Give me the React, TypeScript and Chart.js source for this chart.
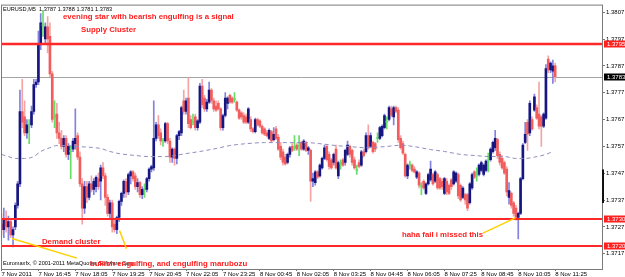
import React, { useEffect, useRef } from "react";
import { Chart, registerables } from "chart.js";

Chart.register(...registerables);

// ---------- data (EURUSD, M5, one candle per 5 minutes from 7 Nov 2011 15:25) ----------
const symbol = "EURUSD,M5";

const opens = [
  1.3728, 1.3726, 1.3730, 1.3727, 1.3729, 1.3724, 1.3727, 1.3735, 1.3743, 1.3770,
  1.3768, 1.3762, 1.3765, 1.3765, 1.3770, 1.3780, 1.3781, 1.3795, 1.3802, 1.3797,
  1.38015, 1.3798, 1.3784, 1.3768, 1.3769, 1.3762, 1.3760, 1.3757, 1.3760, 1.3754,
  1.3755, 1.3756, 1.3758, 1.3761, 1.3753, 1.3743, 1.3734, 1.3742, 1.3738, 1.3743,
  1.3741, 1.3742, 1.3745, 1.3744, 1.3749, 1.3746, 1.3738, 1.3732, 1.3736, 1.3728,
  1.3726, 1.37305, 1.37365, 1.37395, 1.3744, 1.3740, 1.3746, 1.37475, 1.3746, 1.3742,
  1.37435, 1.3739, 1.3741, 1.3741, 1.3745, 1.37485, 1.3749, 1.3760, 1.3765, 1.3762,
  1.3759, 1.3759, 1.37655, 1.3759, 1.3753, 1.3756, 1.37525, 1.3761, 1.3762, 1.3774,
  1.3770, 1.3775, 1.3767, 1.3766, 1.3768, 1.3764, 1.3766, 1.37795, 1.3775, 1.3771,
  1.37735, 1.3778, 1.3774, 1.3772, 1.3773, 1.3771, 1.3764, 1.37685, 1.3773, 1.3776,
  1.3775, 1.37745, 1.37735, 1.37705, 1.37695, 1.37685, 1.3768, 1.3766, 1.3767, 1.37635,
  1.37625, 1.3767, 1.37665, 1.37645, 1.37635, 1.3762, 1.3760, 1.37625, 1.37595, 1.37635,
  1.37605, 1.3757, 1.3755, 1.3753, 1.3751, 1.3754, 1.3757, 1.37565, 1.37575, 1.3757,
  1.37585, 1.3756, 1.37585, 1.37555, 1.37555, 1.3744, 1.37435, 1.37475, 1.3746, 1.3749,
  1.37525, 1.3757, 1.3754, 1.3752, 1.3751, 1.3756, 1.3746, 1.37505, 1.3752, 1.3751,
  1.3754, 1.3757, 1.37555, 1.3752, 1.3748, 1.3751, 1.3750, 1.3755, 1.3755, 1.3761,
  1.3757, 1.37585, 1.3758, 1.3760, 1.3760, 1.3761, 1.3764, 1.3766, 1.3767, 1.3771,
  1.3768, 1.37715, 1.37705, 1.3760, 1.3758, 1.3754, 1.3746, 1.3750, 1.3750, 1.37485,
  1.37455, 1.3747, 1.3742, 1.3744, 1.37395, 1.3743, 1.37445, 1.37465, 1.3744, 1.37465,
  1.3745, 1.3744, 1.37395, 1.3744, 1.37425, 1.37445, 1.3743, 1.3744, 1.37465, 1.37425,
  1.3738, 1.3739, 1.3739, 1.3736, 1.37415, 1.37475, 1.3746, 1.37465, 1.3748, 1.37465,
  1.3748, 1.37515, 1.3752, 1.3755, 1.37565, 1.37595, 1.3754, 1.37525, 1.3751, 1.37485,
  1.3738, 1.37395, 1.3736, 1.3734, 1.37305, 1.3732, 1.3745, 1.37585, 1.3766, 1.3762,
  1.3767, 1.37705, 1.37715, 1.3769, 1.3768, 1.37645, 1.37675, 1.37895, 1.37855, 1.3785, 1.3787,
];

const highs = [
  1.3732, 1.3734, 1.3733, 1.3731, 1.3730, 1.3727, 1.3736, 1.3744, 1.3778, 1.3782,
  1.3774, 1.3767, 1.3767, 1.3772, 1.3782, 1.3782, 1.3800, 1.38065, 1.38076, 1.3803,
  1.38054, 1.3803, 1.3785, 1.3774, 1.3773, 1.3766, 1.3763, 1.3761, 1.3761, 1.3758,
  1.3757, 1.3760, 1.3771, 1.3762, 1.3755, 1.3745, 1.3744, 1.3744, 1.3744, 1.3746,
  1.3745, 1.3746, 1.3747, 1.3750, 1.3751, 1.3747, 1.3739, 1.3737, 1.3737, 1.3730,
  1.3731, 1.3737, 1.3740, 1.37445, 1.3745, 1.3747, 1.3748, 1.3748, 1.3747, 1.3745,
  1.3744, 1.3742, 1.3743, 1.37455, 1.3749, 1.3750, 1.3774, 1.3766, 1.37685, 1.37635,
  1.3760, 1.3766, 1.3766, 1.3760, 1.37565, 1.37565, 1.37615, 1.3763, 1.3772, 1.3778,
  1.3775, 1.37825, 1.37685, 1.3769, 1.3769, 1.3767, 1.37805, 1.3782, 1.3776, 1.37745,
  1.3781, 1.37785, 1.3775, 1.3774, 1.3774, 1.37715, 1.3769, 1.3777, 1.37755, 1.37765,
  1.37755, 1.3777, 1.3774, 1.3771, 1.3770, 1.37695, 1.3769, 1.37715, 1.3768, 1.3764,
  1.37675, 1.37675, 1.3767, 1.3765, 1.3764, 1.3763, 1.37635, 1.3763, 1.3764, 1.37645,
  1.37615, 1.37585, 1.3756, 1.3754, 1.37545, 1.3757, 1.3758, 1.3761, 1.3758, 1.3761,
  1.3759, 1.37595, 1.3759, 1.3757, 1.3756, 1.3747, 1.3748, 1.3748, 1.37505, 1.3753,
  1.37575, 1.37575, 1.3755, 1.37525, 1.37545, 1.37575, 1.37515, 1.3752, 1.37525, 1.3756,
  1.3759, 1.37575, 1.3756, 1.3753, 1.3750, 1.3752, 1.37555, 1.3756, 1.3762, 1.3765,
  1.3762, 1.3759, 1.37585, 1.3762, 1.37645, 1.3765, 1.3769, 1.3768, 1.3772, 1.3772,
  1.3772, 1.3772, 1.37715, 1.3761, 1.3759, 1.37545, 1.37505, 1.37515, 1.37505, 1.37495,
  1.3748, 1.37475, 1.37435, 1.37445, 1.37435, 1.3747, 1.37515, 1.3747, 1.3748, 1.3747,
  1.37455, 1.3745, 1.37455, 1.3745, 1.3743, 1.3745, 1.3748, 1.37475, 1.3747, 1.3743,
  1.3742, 1.37395, 1.37395, 1.37435, 1.3747, 1.3748, 1.3749, 1.37505, 1.37515, 1.37505,
  1.3752, 1.37545, 1.37565, 1.3759, 1.3763, 1.3760, 1.3755, 1.37535, 1.37515, 1.37495,
  1.37435, 1.3740, 1.37365, 1.3735, 1.37325, 1.37455, 1.3758, 1.3766, 1.3767, 1.3774,
  1.3768, 1.37765, 1.37725, 1.3781, 1.37685, 1.37695, 1.37875, 1.37907, 1.37885, 1.37892, 1.3788,
];

const lows = [
  1.3724, 1.3723, 1.3725, 1.3722, 1.3723, 1.37195, 1.3726, 1.3734, 1.3742, 1.3764,
  1.3761, 1.3760, 1.3758, 1.3764, 1.3769, 1.3779, 1.3780, 1.3793, 1.3798, 1.3795,
  1.37918, 1.3783, 1.3766, 1.3764, 1.3760, 1.3758, 1.3756, 1.3755, 1.3753, 1.3752,
  1.3745, 1.3755, 1.3756, 1.3752, 1.3742, 1.3728, 1.3732, 1.3736, 1.3737, 1.3740,
  1.3739, 1.3740, 1.3741, 1.3737, 1.3745, 1.3735, 1.3731, 1.3730, 1.3725, 1.3725,
  1.37245, 1.3729, 1.3735, 1.3738, 1.3738, 1.3739, 1.3743, 1.3744, 1.3741, 1.3740,
  1.3738, 1.37375, 1.3738, 1.3740, 1.3744, 1.37475, 1.3748, 1.3759, 1.3760, 1.37575,
  1.3757, 1.37585, 1.3758, 1.3751, 1.3751, 1.3750, 1.37505, 1.37595, 1.3761, 1.3769,
  1.3769, 1.3764, 1.37635, 1.3765, 1.3763, 1.3763, 1.37655, 1.37715, 1.3770, 1.3770,
  1.3773, 1.3773, 1.3770, 1.3770, 1.37705, 1.3763, 1.3763, 1.3768, 1.3771, 1.3773,
  1.3773, 1.37735, 1.3770, 1.3767, 1.3767, 1.37655, 1.37655, 1.37655, 1.37625, 1.3762,
  1.3762, 1.37645, 1.3764, 1.37615, 1.3761, 1.37605, 1.37595, 1.37585, 1.3759, 1.37595,
  1.37555, 1.3752, 1.3750, 1.3750, 1.37505, 1.3753, 1.3755, 1.37555, 1.37555, 1.37535,
  1.37555, 1.37555, 1.3755, 1.3754, 1.37365, 1.3742, 1.37425, 1.3745, 1.37455, 1.37485,
  1.3752, 1.37515, 1.37485, 1.37485, 1.3750, 1.37485, 1.3745, 1.37485, 1.37495, 1.3750,
  1.37535, 1.3753, 1.3750, 1.37485, 1.37465, 1.3749, 1.37495, 1.3753, 1.37545, 1.3756,
  1.37565, 1.37545, 1.3755, 1.37585, 1.37595, 1.37605, 1.37635, 1.37635, 1.37665, 1.3768,
  1.3765, 1.37695, 1.37585, 1.3756, 1.3754, 1.37455, 1.3745, 1.37485, 1.37475, 1.3747,
  1.3745, 1.37415, 1.3739, 1.3741, 1.3739, 1.37425, 1.3744, 1.37425, 1.37435, 1.3741,
  1.3741, 1.3741, 1.3739, 1.3739, 1.3739, 1.3741, 1.37425, 1.37435, 1.37375, 1.37365,
  1.37375, 1.37355, 1.3733, 1.37355, 1.3741, 1.3745, 1.3744, 1.3746, 1.37475, 1.3746,
  1.37475, 1.37475, 1.37515, 1.37545, 1.37555, 1.37525, 1.3750, 1.37485, 1.37465, 1.37385,
  1.37355, 1.3734, 1.3731, 1.37295, 1.37225, 1.37315, 1.37445, 1.3758, 1.37555, 1.3761,
  1.3763, 1.3770, 1.3767, 1.37635, 1.3757, 1.3764, 1.3767, 1.37845, 1.37845, 1.37805, 1.3781,
];

const closes = [
  1.3726, 1.3730, 1.3727, 1.3729, 1.3724, 1.3726, 1.3735, 1.3743, 1.3770, 1.3766,
  1.3762, 1.3765, 1.3765, 1.3770, 1.3780, 1.3781, 1.3795, 1.3803, 1.3802, 1.38015,
  1.3797, 1.3784, 1.3767, 1.3768, 1.3762, 1.3760, 1.3757, 1.3760, 1.3754, 1.3757,
  1.3755, 1.3759, 1.3760, 1.3753, 1.3743, 1.3734, 1.3742, 1.3738, 1.3743, 1.3741,
  1.3744, 1.37455, 1.3742, 1.3749, 1.3746, 1.3738, 1.3732, 1.3736, 1.3727, 1.3726,
  1.37305, 1.37365, 1.37395, 1.3744, 1.3740, 1.37465, 1.37475, 1.3745, 1.3742, 1.37435,
  1.3739, 1.3741, 1.3741, 1.3745, 1.37485, 1.37495, 1.3760, 1.3765, 1.3761, 1.3759,
  1.3759, 1.37655, 1.3759, 1.3753, 1.3756, 1.37525, 1.3761, 1.37625, 1.37715, 1.3770,
  1.3774, 1.37655, 1.3764, 1.3766, 1.3764, 1.37665, 1.37795, 1.37725, 1.3771, 1.37735,
  1.3778, 1.3774, 1.3771, 1.37705, 1.3771, 1.3764, 1.37685, 1.3775, 1.3775, 1.37735,
  1.37735, 1.37745, 1.37705, 1.37675, 1.3768, 1.3766, 1.3766, 1.3771, 1.37635, 1.37625,
  1.3767, 1.3765, 1.37645, 1.3762, 1.37615, 1.3761, 1.3763, 1.3759, 1.37615, 1.3760,
  1.3756, 1.3753, 1.3751, 1.37505, 1.3754, 1.37565, 1.37555, 1.37565, 1.3756, 1.3757,
  1.3756, 1.3759, 1.37555, 1.37565, 1.3744, 1.3745, 1.37475, 1.37455, 1.3750, 1.37525,
  1.37565, 1.3752, 1.37495, 1.3749, 1.3754, 1.3749, 1.3751, 1.37505, 1.3750, 1.37555,
  1.37575, 1.3754, 1.3751, 1.3749, 1.3748, 1.37495, 1.3755, 1.37535, 1.3761, 1.3757,
  1.3761, 1.3755, 1.3756, 1.3760, 1.3764, 1.37645, 1.37685, 1.3766, 1.37715, 1.37685,
  1.37715, 1.3770, 1.37595, 1.37565, 1.37545, 1.3746, 1.3750, 1.3750, 1.3748, 1.37475,
  1.37475, 1.37425, 1.3742, 1.37415, 1.3743, 1.37465, 1.37485, 1.3743, 1.37475, 1.37415,
  1.37415, 1.3742, 1.3745, 1.3740, 1.37395, 1.3742, 1.37475, 1.3747, 1.37385, 1.3737,
  1.37415, 1.3737, 1.3734, 1.3743, 1.37465, 1.37455, 1.3746, 1.3750, 1.3751, 1.3750,
  1.37515, 1.37515, 1.3756, 1.37585, 1.3760, 1.37535, 1.3751, 1.3749, 1.3747, 1.3740,
  1.37405, 1.3735, 1.3732, 1.37305, 1.3732, 1.3745, 1.37575, 1.37615, 1.37615, 1.3773,
  1.37635, 1.37755, 1.37675, 1.37645, 1.37645, 1.3769, 1.3786, 1.37855, 1.3788, 1.3787, 1.3783,
];

// moving average (dashed) sampled at candle indices
const maIdx = [
  0, 3, 6, 10, 14, 17, 21, 24, 28, 34, 43, 47, 51, 58, 64, 71, 75, 80, 86, 93,
  99, 106, 114, 125, 132, 138, 145, 151, 158, 166, 173, 179, 186, 192, 199, 205, 212, 218, 223, 227,
  231, 236, 239,
];
const maVal = [
  1.3754, 1.37532, 1.37525, 1.37525, 1.37532, 1.37551, 1.37565, 1.37573, 1.37573, 1.37569,
  1.37562, 1.37551, 1.37543, 1.37536, 1.37532, 1.37532, 1.37536, 1.37543, 1.37551, 1.37562,
  1.37573, 1.3758, 1.37584, 1.37584, 1.37584, 1.3758, 1.37573, 1.37569, 1.37565, 1.37569,
  1.37574, 1.37569, 1.37558, 1.37551, 1.3754, 1.37536, 1.37532, 1.37532, 1.37525, 1.37525,
  1.3753, 1.3754, 1.37551,
];

// axes
const xTickIdx = [0, 16, 32, 48, 64, 80, 96, 112, 128, 144, 160, 176, 192, 208, 224, 240];
const xTickLabels = [
  "7 Nov 2011", "7 Nov 16:45", "7 Nov 18:05", "7 Nov 19:25", "7 Nov 20:45", "7 Nov 22:05",
  "7 Nov 23:25", "8 Nov 00:45", "8 Nov 02:05", "8 Nov 03:25", "8 Nov 04:45", "8 Nov 06:05",
  "8 Nov 07:25", "8 Nov 08:45", "8 Nov 10:05", "8 Nov 11:25",
];
const yTickValues = [1.3717, 1.3727, 1.3737, 1.3747, 1.3757, 1.3767, 1.3777, 1.3787, 1.3797, 1.3807];

// horizontal levels
const redLevels = [1.3795, 1.373, 1.372];
const bidLevel = 1.3783;
const scrollFrom = 1.37484;
const scrollTo = 1.37359;

// annotations (candle index, price)
const noteTexts = [
  "evening star with bearish engulfing is a signal",
  "Supply Cluster",
  "Demand cluster",
  "bullish engulfing, and engulfing marubozu",
  "haha fail i missed this",
];
const noteIdx = [26.66, 34.46, 17.55, 38.36, 173.6];
const notePrice = [1.380524, 1.380027, 1.372124, 1.371334, 1.3724];

const arrowFromIdx = [4.55, 51.15, 208.7];
const arrowFromPrice = [1.37227, 1.372565, 1.372466];
const arrowToIdx = [32.7, 54.18, 222.8];
const arrowToPrice = [1.371536, 1.371885, 1.373036];

const copyright = "Euromaxfx, \u00a9 2001-2011 MetaQuotes Software Corp.";

// ---------- style ----------
const FONT = "'Liberation Sans', Arial, sans-serif";
const BULL_BODY = "#161680";
const BULL_WICK = "#8282e0";
const BEAR_BODY = "#f25c5c";
const BEAR_WICK = "#f5a3a3";
const DOJI = "#66dd66";
const MA_COLOR = "#8e8ebe";
const RED_LINE = "#ff2828";
const NOTE_RED = "#ff1c1c";
const YELLOW = "#ffd000";

const Y_MIN = 1.37113;
const Y_MAX = 1.380983;
const X_MIN = -0.217;
const X_MAX = 260.3;

const overlay = {
  id: "mtOverlay",
  beforeDatasetsDraw(chart: any) {
    const { ctx, chartArea: a, scales } = chart;
    const y = scales.y;
    ctx.save();
    const yb = Math.round(y.getPixelForValue(bidLevel)) + 0.5;
    ctx.strokeStyle = "#a4a4a4";
    ctx.lineWidth = 1;
    ctx.beginPath();
    ctx.moveTo(a.left, yb);
    ctx.lineTo(a.right, yb);
    ctx.stroke();
    ctx.restore();
  },
  afterDraw(chart: any) {
    const { ctx, chartArea: a, scales } = chart;
    const x = scales.x;
    const y = scales.y;
    ctx.save();

    // red support / resistance lines
    ctx.strokeStyle = RED_LINE;
    ctx.lineWidth = 2;
    redLevels.forEach((lv, k) => {
      const py = Math.round(y.getPixelForValue(lv));
      ctx.lineWidth = k === 0 ? 2.5 : 2;
      ctx.beginPath();
      ctx.moveTo(a.left, py);
      ctx.lineTo(a.right, py);
      ctx.stroke();
    });

    // yellow pointer lines
    ctx.strokeStyle = YELLOW;
    ctx.lineWidth = 1.5;
    arrowFromIdx.forEach((fi, k) => {
      ctx.beginPath();
      ctx.moveTo(x.getPixelForValue(fi), y.getPixelForValue(arrowFromPrice[k]));
      ctx.lineTo(x.getPixelForValue(arrowToIdx[k]), y.getPixelForValue(arrowToPrice[k]));
      ctx.stroke();
    });

    // frame
    ctx.strokeStyle = "#7a7a7a";
    ctx.lineWidth = 1;
    ctx.strokeRect(a.left + 0.5, a.top + 0.5, a.right - a.left, a.bottom - a.top);

    // scroll marker on price axis
    const s1 = y.getPixelForValue(scrollFrom);
    const s2 = y.getPixelForValue(scrollTo);
    ctx.fillStyle = "#111";
    ctx.fillRect(a.right, s1, 2, s2 - s1);

    // title & copyright
    const last = closes.length - 1;
    const title = `${symbol}  ${opens[last].toFixed(4)} ${highs[last].toFixed(4)} ${lows[last].toFixed(4)} ${closes[last].toFixed(4)}`;
    ctx.fillStyle = "#000";
    ctx.textBaseline = "middle";
    ctx.textAlign = "left";
    ctx.font = `5.6px ${FONT}`;
    ctx.fillText(title, a.left + 2, a.top + 4.5);
    ctx.fillText(copyright, a.left + 2, a.bottom - 6);

    // notes
    ctx.fillStyle = NOTE_RED;
    ctx.font = `bold 7.8px ${FONT}`;
    noteTexts.forEach((t, k) => {
      ctx.fillText(t, x.getPixelForValue(noteIdx[k]), y.getPixelForValue(notePrice[k]));
    });

    // price boxes on axis
    const boxes: [number, string][] = [
      [redLevels[0], "#ff2020"],
      [bidLevel, "#000000"],
      [redLevels[1], "#ff2020"],
      [redLevels[2], "#ff2020"],
    ];
    ctx.font = `6px ${FONT}`;
    boxes.forEach(([lv, col]) => {
      const py = Math.round(y.getPixelForValue(lv));
      ctx.fillStyle = col;
      ctx.fillRect(a.right + 2, py - 3.5, 625 - a.right - 2, 7);
      ctx.fillStyle = "#ffffff";
      ctx.fillText(lv.toFixed(4), a.right + 5, py + 0.5);
    });

    ctx.restore();
  },
};

export default function App() {
  const ref = useRef<HTMLCanvasElement>(null);

  useEffect(() => {
    const idx = closes.map((_, i) => i);
    const dir = closes.map((c, i) => (c > opens[i] ? 1 : c < opens[i] ? -1 : 0));
    const bodyCol = dir.map((d) => (d > 0 ? BULL_BODY : d < 0 ? BEAR_BODY : DOJI));
    const wickCol = dir.map((d) => (d > 0 ? BULL_WICK : d < 0 ? BEAR_WICK : DOJI));

    const tickFont = { family: FONT, size: 6 };

    const chart = new Chart(ref.current as HTMLCanvasElement, {
      type: "bar",
      data: {
        datasets: [
          {
            type: "line",
            data: maIdx.map((v, i) => ({ x: v, y: maVal[i] })),
            borderColor: MA_COLOR,
            borderWidth: 1,
            borderDash: [4, 3],
            pointRadius: 0,
            fill: false,
            cubicInterpolationMode: "monotone",
            order: 1,
          } as any,
          {
            type: "bar",
            data: idx.map((i) => ({ x: i, y: [opens[i], closes[i]] })),
            backgroundColor: bodyCol,
            barThickness: 2,
            minBarLength: 1,
            grouped: false,
            order: 2,
          } as any,
          {
            type: "bar",
            data: idx.map((i) => ({ x: i, y: [lows[i], highs[i]] })),
            backgroundColor: wickCol,
            barThickness: 1,
            grouped: false,
            order: 3,
          } as any,
        ],
      },
      options: {
        animation: false,
        responsive: false,
        maintainAspectRatio: false,
        devicePixelRatio: 1,
        layout: { padding: { left: 1, top: 1, right: 0, bottom: 0 } },
        plugins: { legend: { display: false }, tooltip: { enabled: false } },
        scales: {
          x: {
            type: "linear",
            min: X_MIN,
            max: X_MAX,
            offset: false,
            afterBuildTicks: (s: any) => {
              s.ticks = xTickIdx.map((v) => ({ value: v }));
            },
            afterFit: (s: any) => {
              s.height = 8;
            },
            ticks: {
              autoSkip: false,
              maxRotation: 0,
              minRotation: 0,
              align: "start",
              padding: 0,
              color: "#000",
              font: tickFont,
              callback: (_v: any, i: number) => xTickLabels[i] ?? "",
            },
            grid: { drawOnChartArea: false, tickLength: 2, color: "#777", offset: false },
            border: { display: false },
          },
          y: {
            type: "linear",
            position: "right",
            min: Y_MIN,
            max: Y_MAX,
            afterBuildTicks: (s: any) => {
              s.ticks = yTickValues.map((v) => ({ value: v }));
            },
            afterFit: (s: any) => {
              s.width = 23;
            },
            ticks: {
              padding: 1,
              color: "#000",
              font: tickFont,
              callback: (v: any) => Number(v).toFixed(4),
            },
            grid: { drawOnChartArea: false, tickLength: 3, color: "#777" },
            border: { display: false },
          },
        },
      } as any,
      plugins: [overlay],
    });

    return () => chart.destroy();
  }, []);

  return (
    <div style={{ position: "fixed", left: 0, top: 0, width: 625, height: 277, background: "#fff" }}>
      <canvas ref={ref} width={625} height={277} style={{ display: "block", width: 625, height: 277 }} />
    </div>
  );
}
